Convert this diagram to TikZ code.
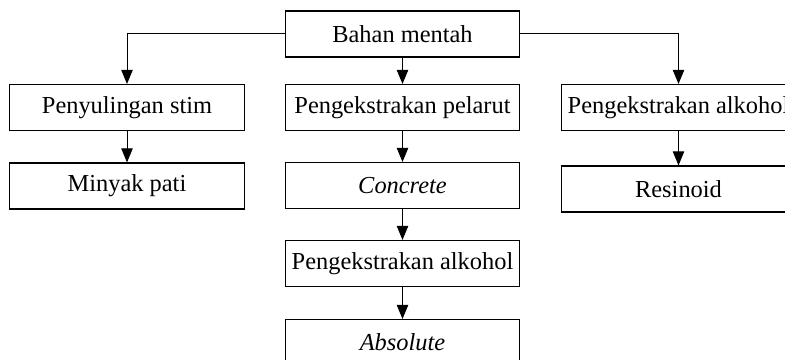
\documentclass[tikz,border=0pt]{standalone}
\usepackage{fontspec}
\setmainfont{Liberation Serif}
\usetikzlibrary{arrows.meta}
\begin{document}
\begin{tikzpicture}[x=0.75pt,y=-0.75pt,
  box/.style={draw,line width=0.8pt,minimum width=176pt,minimum height=34.5pt,inner sep=1pt,font=\fontsize{18.3}{21}\selectfont},
  arr/.style={line width=0.75pt,-{Triangle[length=10.5pt,width=8.5pt]}}]
\useasboundingbox (0,0) rectangle (785,360);
\node[box] (top) at (402.5,34) {Bahan mentah};
\node[box] (ps) at (127,107.5) {Penyulingan stim};
\node[box] (pp) at (402.5,107.5) {Pengekstrakan pelarut};
\node[box] (pa) at (678.5,107.5) {Pengekstrakan alkohol};
\node[box] (mp) at (127,186) {Minyak pati};
\node[box] (conc) at (402.5,185.5) {\itshape Concrete};
\node[box] (res) at (678.5,189) {Resinoid};
\node[box] (pa2) at (402.5,263.5) {Pengekstrakan alkohol};
\node[box] (abs) at (402.5,342.5) {\itshape Absolute};
\draw[arr] (top.west) -| (ps.north);
\draw[arr] (top.east) -| (pa.north);
\draw[arr] (top) -- (pp);
\draw[arr] (ps) -- (mp);
\draw[arr] (pp) -- (conc);
\draw[arr] (pa) -- (res);
\draw[arr] (conc) -- (pa2);
\draw[arr] (pa2) -- (abs);
\end{tikzpicture}
\end{document}
